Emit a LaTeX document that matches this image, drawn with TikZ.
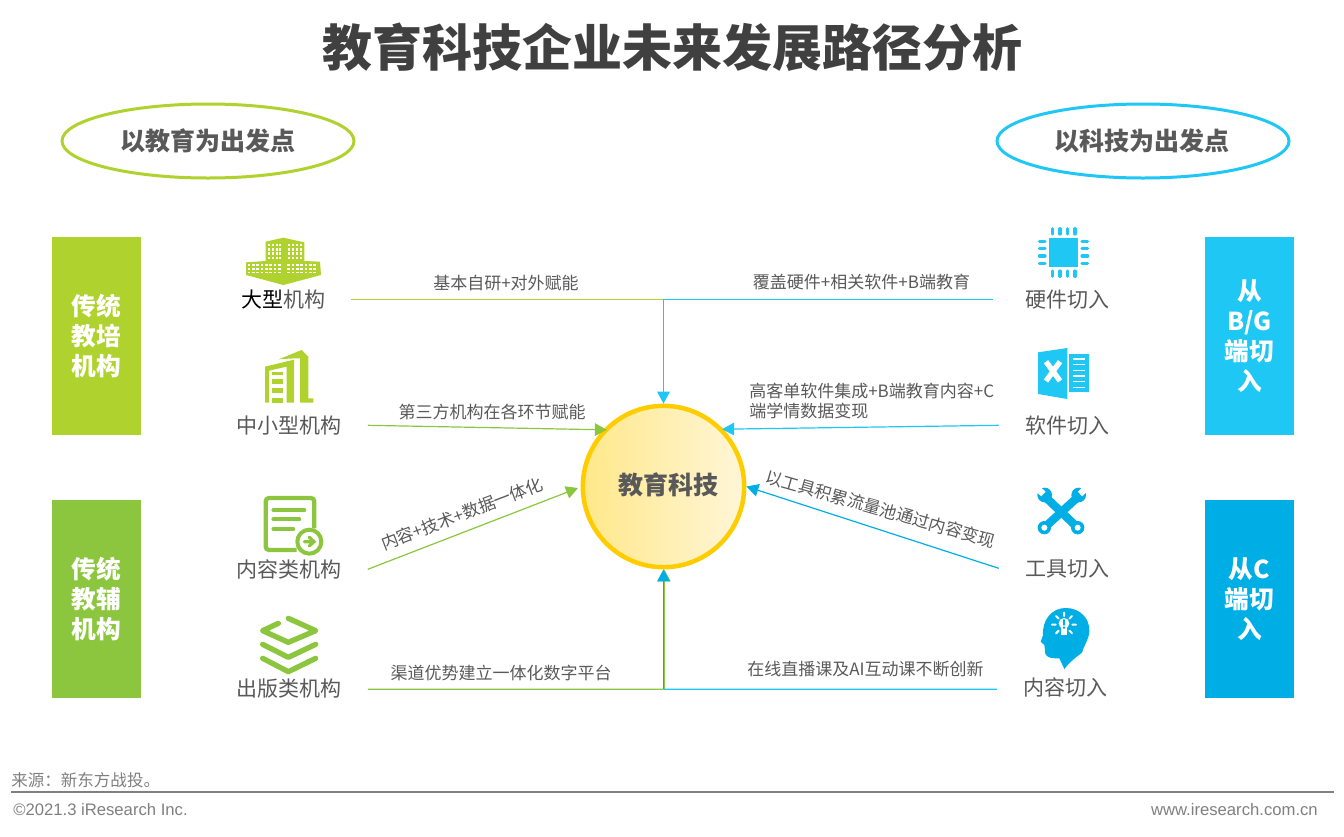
\documentclass[tikz,border=0pt]{standalone}
\usepackage{fontspec}
\setmainfont{Noto Sans CJK SC}
\newfontfamily\arialfont{Liberation Sans}
\usetikzlibrary{arrows.meta,shapes.geometric}
\definecolor{limegrn}{HTML}{AFD22F}
\definecolor{leafgrn}{HTML}{8CC63E}
\definecolor{skyblue}{HTML}{1FC7F5}
\definecolor{deepblue}{HTML}{00AEE6}
\definecolor{labelgray}{HTML}{595959}
\definecolor{titlegray}{HTML}{404040}
\definecolor{footgray}{HTML}{7F7F7F}
\definecolor{goldline}{HTML}{FFCC00}
\definecolor{sunleft}{HTML}{FFE88A}
\definecolor{sunright}{HTML}{FFF6D8}
\tikzset{
    sidebox/.style={minimum width=66.75pt, minimum height=148.5pt, inner sep=0pt, text=white, align=center, font=\fontsize{18.5}{22.5}\selectfont\bfseries},
    ovalbox/.style={ellipse, line width=2.25pt, fill=white, minimum width=219pt, minimum height=55.5pt, text=labelgray, font=\fontsize{18.75}{22}\selectfont\bfseries},
    orglabel/.style={inner xsep=19.5pt, inner ysep=0pt, text height=14.6pt, text depth=1.9pt, text=labelgray, font=\fontsize{15.75}{19}\selectfont},
    note/.style={inner sep=0pt, text=labelgray, font=\fontsize{12.75}{15}\selectfont},
    link/.style={line width=0.9pt},
    tip/.style={-{Triangle[length=9pt,width=9.5pt]}, line width=0.9pt},
}
\begin{document}
\begin{tikzpicture}[x=0.75pt, y=-0.75pt]
    \useasboundingbox (0,0) rectangle (1344,836);

    \node[text=titlegray, font=\fontsize{37.5}{44}\selectfont\bfseries] (title) at (672,47) {教育科技企业未来发展路径分析};

    \node[ovalbox, draw=limegrn] (ovalleft) at (208,141) {以教育为出发点};
    \node[ovalbox, draw=skyblue] (ovalright) at (1143,141) {\hspace*{-1.5pt}以科技为出发点};

    \node[sidebox, fill=limegrn] (boxtrain) at (96.5,336) {传统\\教培\\机构};
    \node[sidebox, fill=leafgrn] (boxtutor) at (96.5,599) {传统\\教辅\\机构};
    \node[sidebox, fill=skyblue] (boxbg) at (1249.5,336) {从\\B/G\\端切\\入};
    \node[sidebox, fill=deepblue] (boxc) at (1249.5,599) {从C\\端切\\入};

    \node[circle, draw=goldline, line width=3.4pt, minimum size=121pt, inner sep=0pt, text height=16.5pt, text depth=4.5pt, left color=sunleft, right color=sunright, text=labelgray, font=\fontsize{18.75}{22}\selectfont\bfseries] (centre) at (663.5,486.5) {\hspace*{7.5pt}教育科技};

    % left and right labels
    \node[orglabel] (large) at (283,299.3) {\textcolor{black}{大型}机构};
    \node[orglabel] (small) at (289,425.3) {中小型机构};
    \node[orglabel] (content) at (289,569.3) {内容类机构};
    \node[orglabel] (publish) at (289,688) {出版类机构};
    \node[orglabel] (hard) at (1067.5,299.3) {硬件切入};
    \node[orglabel] (soft) at (1067,425.3) {软件切入};
    \node[orglabel] (tool) at (1067,568.3) {工具切入};
    \node[orglabel] (lesson) at (1065,687) {内容切入};

    % texts on the connectors
    \node[note] (n1) at (506,283) {基本自研+对外赋能};
    \node[note] (n2) at (492,412) {第三方机构在各环节赋能};
    \node[note, rotate=21] (n3) at (462,514) {内容+技术+数据一体化};
    \node[note] (n4) at (501,673) {渠道优势建立一体化数字平台};
    \node[note] (n5) at (861.5,282) {覆盖硬件+相关软件+B端教育};
    \node[note, anchor=north west, align=left] (n6) at (749,383) {高客单软件集成+B端教育内容+C\\端学情数据变现};
    \node[note, rotate=-16] (n7) at (880.5,509) {以工具积累流量池通过内容变现};
    \node[note] (n8) at (865.5,669) {在线直播课及AI互动课不断创新};

    \coordinate (topjoin) at (663.5,299.3);
    \coordinate (botjoin) at (663.5,689.3);
    \coordinate (contenttip) at (578,488);

    \draw[link, limegrn] (large.east) -- (topjoin);
    \draw[link, skyblue] ([xshift=-4.5pt]hard.west) -- (topjoin);
    \draw[tip, skyblue] (topjoin) -- (centre.north);
    \draw[tip, leafgrn] (small.east) -- ([xshift=1.5pt,yshift=-1.5pt]centre.135);
    \draw[tip, skyblue] (soft.west) -- ([yshift=-1pt]centre.45);
    \draw[tip, leafgrn] (content.east) -- (contenttip);
    \draw[tip, deepblue] (tool.west) -- (centre.east);
    \draw[link, leafgrn] ([yshift=-0.975pt]publish.east) -- (botjoin);
    \draw[tip, leafgrn] ([xshift=0.6pt]botjoin) -- ([xshift=0.6pt]centre.south);
    \draw[link, skyblue] ([yshift=-1.725pt]lesson.west) -- (botjoin);
    \draw[tip, deepblue] (botjoin) -- (centre.south);

    % large building
    \begin{scope}[shift={(220,225)}, scale=1/3]
        \fill[limegrn] (137,50) -- (190,38) -- (253,52) -- (253,108) -- (300,110) -- (303,150) -- (190,180) -- (78,150) -- (78,112) -- (137,108) -- cycle;
        \foreach \x in {143,155,167,178,203,215,227,239}
            \foreach \y in {56,69,82,95}
                \fill[white] (\x,\y) rectangle +(6,8);
        \foreach \x in {83,96,109,122,135,148,161,174,202,215,228,241,254,267,280}
            \foreach \y in {118,129,140}
                \fill[white] (\x,\y) rectangle +(8,5);
    \end{scope}

    % small building
    \begin{scope}[shift={(220,225)}, scale=1/3]
        \fill[limegrn] (135,425) -- (222,404) -- (222,533) -- (200,533) -- (200,425) -- (147,437) -- (147,533) -- (135,533) -- cycle;
        \fill[limegrn] (176,403) -- (245,375) -- (265,395) -- (265,520) -- (280,520) -- (280,533) -- (240,533) -- (240,400) -- (222,400) -- cycle;
        \foreach \y/\t in {440/450,463/478,490/505,518/533}
            \fill[limegrn] (155,\y) rectangle (188,\t);
    \end{scope}

    % document
    \begin{scope}[shift={(220,485)}, scale=1/3]
        \draw[leafgrn, line width=3.2pt, rounded corners=2.5pt] (230,195) -- (137,195) -- (137,39) -- (283,39) -- (283,130);
        \draw[leafgrn, line width=2.9pt, line cap=round] (160,75) -- (253,75) (160,103) -- (238,103) (160,132) -- (220,132);
        \draw[leafgrn, line width=3pt, fill=white] (268,170) circle (36);
        \draw[leafgrn, line width=2.4pt, line cap=round] (253,170) -- (282,170) (268,157) -- (282,170) -- (268,183);
    \end{scope}

    % layers
    \begin{scope}[shift={(220,485)}, scale=1/3]
        \draw[leafgrn, line width=4pt, line cap=round, line join=round] (175,415) -- (128,437) -- (205,472) -- (287,437) -- (205,400);
        \draw[leafgrn, line width=4pt, line cap=round, line join=round] (128,478) -- (205,517) -- (287,478);
        \draw[leafgrn, line width=4pt, line cap=round, line join=round] (128,520) -- (205,560) -- (287,520);
    \end{scope}

    % chip
    \begin{scope}[shift={(1010,225)}, scale=1/3]
        \fill[skyblue] (117,38) rectangle (204,126);
        \foreach \p in {127,150,172,195}
            \draw[skyblue, line width=2.4pt, line cap=round] (\p,11) -- (\p,27) (\p,138) -- (\p,154);
        \foreach \p in {49,71,93,115}
            \draw[skyblue, line width=2.4pt, line cap=round] (88,\p) -- (105,\p) (216,\p) -- (233,\p);
    \end{scope}

    % spreadsheet
    \begin{scope}[shift={(1010,225)}, scale=1/3]
        \fill[skyblue] (84,382) -- (172,369) -- (172,522) -- (84,507) -- cycle;
        \fill[skyblue] (177,387) rectangle (237,500);
        \foreach \y in {402,419,436,453,470,487}
            \draw[white, line width=0.9pt] (190,\y) -- (225,\y);
        \draw[white, line width=4pt] (108,410) -- (150,468) (150,410) -- (108,468);
    \end{scope}

    % wrenches
    \begin{scope}[shift={(1010,480)}, scale=1/3]
        \draw[deepblue, line width=6.2pt] (103,143) -- (208,47) (203,143) -- (102,47);
        \fill[deepblue] (103,143) circle (20) (203,143) circle (20) (104,45) circle (22) (206,45) circle (22);
        \fill[white] (103,143) circle (9) (203,143) circle (9);
        \draw[white, line width=4.8pt] (100,42) -- (75,18) (210,42) -- (235,18);
    \end{scope}

    % head with bulb
    \begin{scope}[shift={(1010,480)}, scale=1/3]
        \fill[deepblue] (163,567) -- (148,535) .. controls (130,535) and (112,535) .. (106,522) .. controls (104,510) and (105,500) .. (103,495) -- (92,485) -- (99,466) .. controls (96,420) and (125,384) .. (167,384) .. controls (210,384) and (240,415) .. (238,455) .. controls (236,480) and (222,495) .. (216,518) .. controls (200,530) and (180,545) .. (163,567) -- cycle;
        \fill[white] (162,430) circle (16);
        \fill[white] (152,440) rectangle (172,464);
        \fill[deepblue] (159,418) rectangle (165,436) (159,440) rectangle (165,446);
        \draw[white, line width=1.5pt, line cap=round] (162,398) -- (162,408) (126,434) -- (137,434) (187,434) -- (198,434) (138,408) -- (146,416) (186,408) -- (178,416) (138,460) -- (146,452) (186,460) -- (178,452);
    \end{scope}

    % footer
    \node[anchor=west, inner sep=0pt, text=footgray, font=\fontsize{12.4}{15}\selectfont] (source) at (11,780) {来源：新东方战投。};
    \coordinate (ruleleft) at (11,792);
    \coordinate (ruleright) at (1334,792);
    \draw[footgray, line width=1.5pt] (ruleleft) -- (ruleright);
    \node[anchor=west, inner sep=0pt, text=footgray, font=\arialfont\fontsize{12.5}{14}\selectfont] (copy) at (13,810) {©2021.3 iResearch Inc.};
    \node[anchor=east, inner sep=0pt, text=footgray, font=\arialfont\fontsize{12.5}{14}\selectfont] (site) at (1318,810) {www.iresearch.com.cn};
\end{tikzpicture}
\end{document}
